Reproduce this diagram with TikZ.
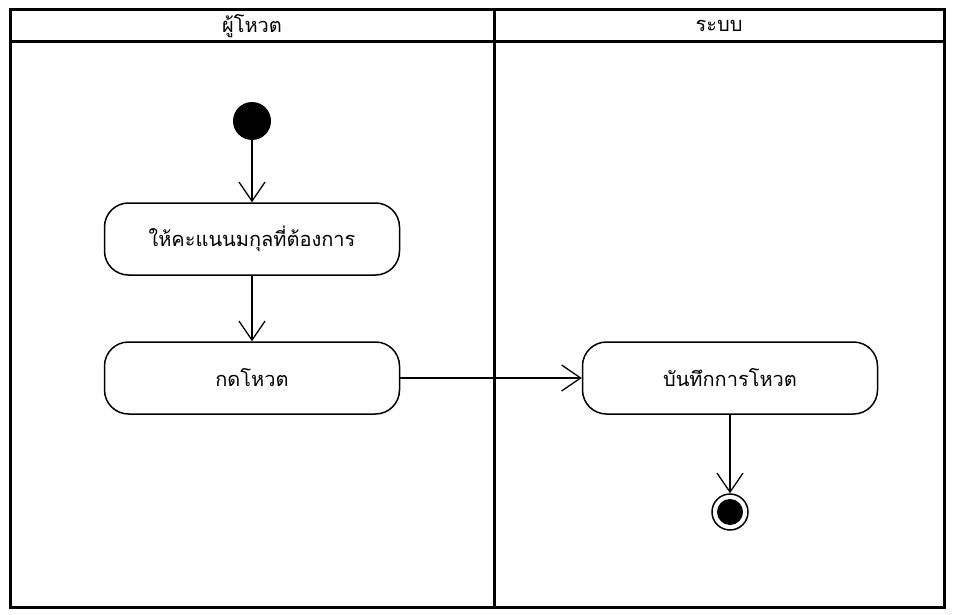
\documentclass[tikz,border=0pt]{standalone}
\usepackage{fontspec}
\newfontfamily\thaifont[Script=Thai]{Loma}
\usepackage{tikz}
\usetikzlibrary{arrows.meta}
\usetikzlibrary{positioning}

\begin{document}
\begin{tikzpicture}[x=1pt, y=-1pt, >={Straight Barb[length=19pt,width=26pt,line width=1.3pt]},
    every node/.style={font=\thaifont\fontsize{20}{22}\selectfont},
    action/.style={draw, line width=1.5pt, rounded corners=24pt, minimum width=295pt, minimum height=72pt},
    flow/.style={->, line width=1.3pt}]
  \useasboundingbox (0,0) rectangle (953,615);

  % swimlanes
  \draw[line width=3pt] (10,10) rectangle (944,607);
  \draw[line width=3pt] (10,42) -- (944,42);
  \draw[line width=3pt] (494,10) -- (494,607);
  \node (voter) at (252,26) {ผู้โหวต};
  \node (system) at (719,26) {ระบบ};

  % initial / final
  \node[circle, fill, minimum size=38pt, inner sep=0pt] (init) at (252,121) {};
  \node[circle, draw, line width=1.5pt, minimum size=36pt, inner sep=0pt] (final) at (730,512) {};
  \fill (final) circle (13pt);

  % actions
  \node[action] (score) at (252,239) {ให้คะแนนมกุลที่ต้องการ};
  \node[action] (press) at (252,378) {กดโหวต};
  \node[action] (save) at (730,378) {บันทึกการโหวต};

  \draw[flow] (init) -- (score);
  \draw[flow] (score) -- (press);
  \draw[flow] (press) -- (save);
  \draw[flow] (save) -- (final);
\end{tikzpicture}
\end{document}
